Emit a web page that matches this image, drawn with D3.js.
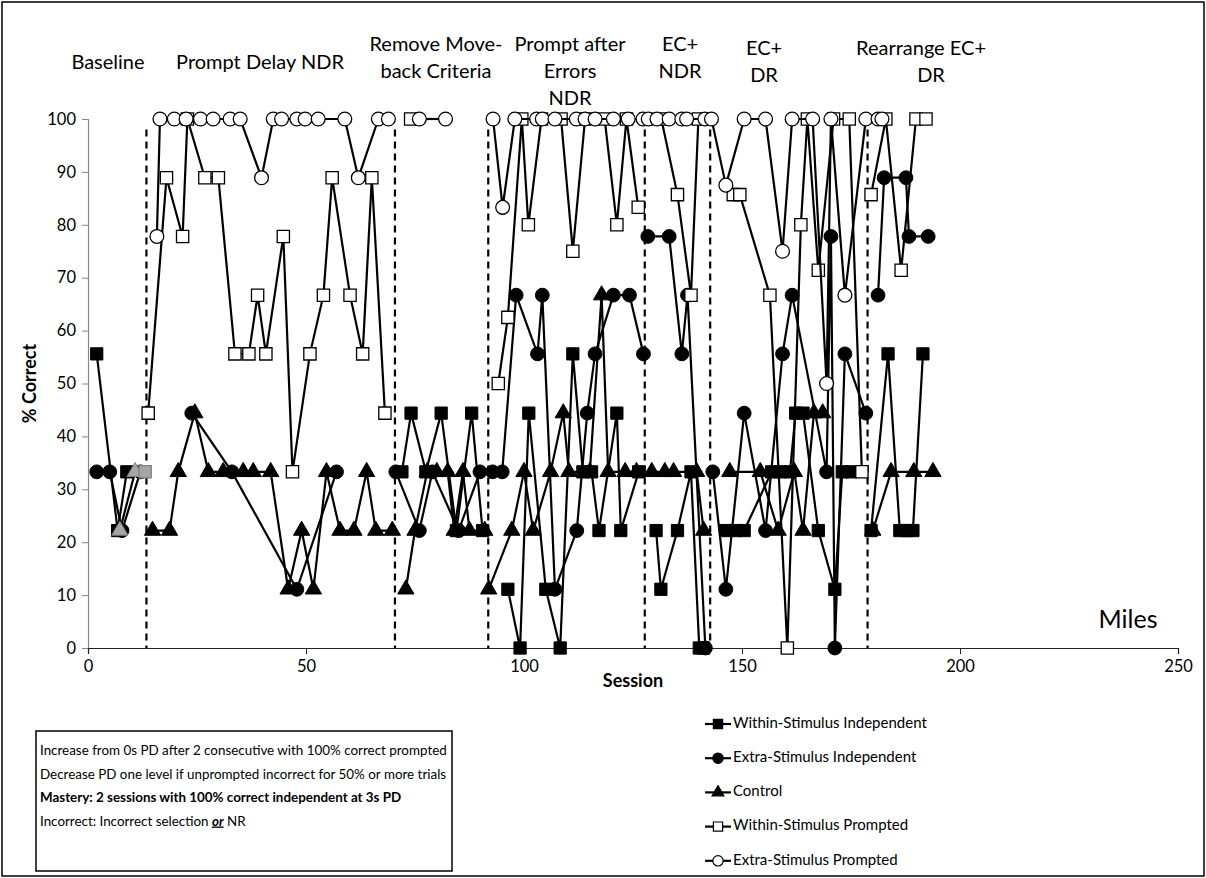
<!DOCTYPE html>
<html>
<head>
<meta charset="utf-8">
<script src="https://cdn.jsdelivr.net/npm/d3@7"></script>
<style>
body { margin: 0; background: #fff; }
svg text { font-family: Lato, "Open Sans", sans-serif; fill: #000; }
</style>
</head>
<body>
<div id="chart"></div>
<script>
// session, % correct
var wsIndep = [
    [2, 55.6], [6.8, 22.2], [8.9, 33.3],
    [72, 33.3], [74.1, 44.4], [77.5, 33.3], [81, 44.4], [84.5, 22.2], [88, 44.4], [90.5, 22.2],
    [96.3, 11.1], [99.1, 0], [101.1, 44.4], [105, 11.1], [108.3, 0], [111.2, 55.6], [113.5, 33.3], [115.5, 33.3], [117.2, 22.2], [121.3, 44.4], [122.2, 22.2], [126.3, 33.3],
    [130.3, 22.2], [131.4, 11.1], [135.2, 22.2], [138.3, 33.3], [140.2, 0], [141.2, 0],
    [146.3, 22.2], [148.5, 22.2], [150.5, 22.2], [156.8, 33.3], [158.7, 33.3], [161, 33.3], [162.3, 44.4], [164, 44.4], [167.5, 22.2], [171.3, 11.1], [173, 33.3], [175, 33.3],
    [179.6, 22.2], [183.5, 55.6], [186.2, 22.2], [187.8, 22.2], [189.2, 22.2], [191.5, 55.6]
];
var esIndep = [
    [2, 33.3], [5, 33.3], [7.8, 22.2], [12, 33.3],
    [23.8, 44.4], [33, 33.3], [47.9, 11.1], [57, 33.3],
    [70.6, 33.3], [76, 22.2], [79, 33.3], [85, 22.2], [89.9, 33.3],
    [92.8, 33.3], [95, 33.3], [98.2, 66.7], [103.1, 55.6], [104.2, 66.7], [107.1, 11.1], [112.1, 22.2], [114.5, 44.4], [116.3, 55.6], [120.5, 66.7], [124.2, 66.7], [127.4, 55.6],
    [128.4, 77.8], [133.3, 77.8], [136.2, 55.6], [137.5, 66.7], [141.6, 0],
    [143.3, 33.3], [146.3, 11.1], [150.5, 44.4], [155.4, 22.2], [159.3, 55.6], [161.5, 66.7], [169.4, 33.3], [170.4, 77.8], [171.3, 0], [173.6, 55.6], [178.4, 44.4],
    [181.2, 66.7], [182.6, 88.9], [187.6, 88.9], [188.3, 77.8], [192.7, 77.8]
];
var control = [
    [7.3, 22.2], [10.8, 33.3],
    [14.8, 22.2], [18.7, 22.2], [20.7, 33.3], [24.5, 44.4], [27.6, 33.3], [31, 33.3], [35.6, 33.3], [37.9, 33.3], [41.9, 33.3], [45.9, 11.1], [49, 22.2], [51.7, 11.1], [54.7, 33.3], [57.8, 22.2], [61, 22.2], [63.9, 33.3], [66, 22.2], [69.8, 22.2],
    [72.9, 11.1], [75, 22.2], [77.8, 33.3], [80, 33.3], [82.5, 33.3], [84, 22.2], [86, 33.3], [87.5, 22.2], [91, 22.2],
    [91.9, 11.1], [97.2, 22.2], [100, 33.3], [102.1, 22.2], [106.1, 33.3], [109, 44.4], [110.3, 33.3], [115.1, 33.3], [117.8, 66.7], [119.3, 33.3], [123.2, 33.3], [125.8, 33.3],
    [129.3, 33.3], [132.3, 33.3], [134.3, 33.3], [139.6, 33.3], [141.2, 22.2],
    [147.2, 33.3], [154.2, 33.3], [158.3, 22.2], [162, 33.3], [164, 22.2], [166.5, 44.4], [168.5, 44.4],
    [180, 22.2], [184.2, 33.3], [189.4, 33.3], [193.8, 33.3]
];
var wsPrompted = [
    [13.1, 33.3],
    [13.8, 44.4], [18, 88.9], [21.7, 77.8], [22.8, 100], [26.8, 88.9], [29.9, 88.9], [33.7, 55.6], [36.9, 55.6], [38.9, 66.7], [40.8, 55.6], [44.8, 77.8], [46.9, 33.3], [50.9, 55.6], [54, 66.7], [56, 88.9], [60.1, 66.7], [63, 55.6], [65.1, 88.9], [68.1, 44.4],
    [74, 100],
    [94.1, 50], [96.3, 62.5], [99.5, 100], [101, 80], [104, 100], [108.5, 100], [111.2, 75], [114, 100], [118.5, 100], [121.3, 80], [123.5, 100], [126.2, 83.3],
    [128, 100], [131.5, 100], [135.2, 85.7], [138.3, 66.7], [140, 100], [142, 100],
    [148, 85.7], [149.5, 85.7], [156.4, 66.7], [160.4, 0], [163.5, 80], [165, 100], [167.5, 71.4], [171, 100], [174.6, 100], [177.5, 33.3],
    [179.6, 85.7], [183, 100], [186.5, 71.4], [189.9, 100], [192.2, 100]
];
var esPrompted = [
    [15.8, 77.8], [16.5, 100], [19.8, 100], [22.5, 100], [25.8, 100], [28.7, 100], [32.6, 100], [34.9, 100], [39.8, 88.9], [42.5, 100], [44.4, 100], [47.9, 100], [49.8, 100], [52.8, 100], [58.9, 100], [62, 88.9], [66.6, 100], [68.9, 100],
    [76, 100], [82, 100],
    [92.9, 100], [95.1, 83.3], [97.9, 100], [102.9, 100], [104.2, 100], [107.1, 100], [112, 100], [114, 100], [116.3, 100], [120.5, 100], [123.9, 100], [127.3, 100],
    [128.5, 100], [130.5, 100], [133.3, 100], [136.2, 100], [137.3, 100], [141.5, 100],
    [143, 100], [146.3, 87.5], [150.5, 100], [155.4, 100], [159.3, 75], [161.5, 100], [166.2, 100], [169.4, 50], [170.4, 100], [173.6, 66.7], [178.4, 100],
    [181.2, 100], [182.1, 100]
];

var phaseBreaks = [13.4, 70.4, 91.8, 127.7, 142.7, 178.8];
var phaseNames = [
    ["Baseline"], ["Prompt Delay NDR"], ["Remove Move-", "back Criteria"],
    ["Prompt after", "Errors", "NDR"], ["EC+", "NDR"], ["EC+", "DR"], ["Rearrange EC+", "DR"]
];
var xTicks = [0, 50, 100, 150, 200, 250];
var yTicks = [0, 10, 20, 30, 40, 50, 60, 70, 80, 90, 100];
var notes = [
    "Increase from 0s PD after 2 consecutive with 100% correct prompted",
    "Decrease PD one level if unprompted incorrect for 50% or more trials",
    "Mastery: 2 sessions with 100% correct independent at 3s PD"
];

let series = [
    { name: "Within-Stimulus Independent", data: wsIndep, shape: d3.symbolSquare, open: false },
    { name: "Extra-Stimulus Independent", data: esIndep, shape: d3.symbolCircle, open: false },
    { name: "Control", data: control, shape: d3.symbolTriangle, open: false, grayBaseline: true },
    { name: "Within-Stimulus Prompted", data: wsPrompted, shape: d3.symbolSquare, open: true, grayBaseline: true },
    { name: "Extra-Stimulus Prompted", data: esPrompted, shape: d3.symbolCircle, open: true }
];

let dimension = {
    width: 1206,
    height: 878,
    margin: { top: 119, left: 88, right: 28, bottom: 230 }
};

let svg = d3.select("#chart")
    .append("svg")
    .attr("width", dimension.width)
    .attr("height", dimension.height);

// outer frame
svg.append("rect")
    .attr("x", 2).attr("y", 2)
    .attr("width", dimension.width - 4).attr("height", dimension.height - 4)
    .attr("fill", "none").attr("stroke", "#000").attr("stroke-width", 1.5);

let X = d3.scaleLinear()
    .domain([0, 250])
    .range([dimension.margin.left, dimension.width - dimension.margin.right]);
let Y = d3.scaleLinear()
    .domain([0, 100])
    .range([dimension.height - dimension.margin.bottom, dimension.margin.top]);

// axes
let yAxis = svg.append("g")
    .attr("transform", "translate(" + X(0) + ",0)")
    .call(d3.axisLeft(Y).tickValues(yTicks).tickSize(6).tickPadding(6));
yAxis.select(".domain").attr("stroke", "#868686").attr("stroke-width", 1.2);
yAxis.selectAll(".tick line").attr("stroke", "#868686");
yAxis.selectAll("text").style("font-size", "16.5px").attr("fill", "#222");

let xAxis = svg.append("g")
    .attr("transform", "translate(0," + Y(0) + ")")
    .call(d3.axisBottom(X).tickValues(xTicks).tickSize(6).tickPadding(6));
xAxis.select(".domain").attr("stroke", "#222").attr("stroke-width", 1.2);
xAxis.selectAll(".tick line").attr("stroke", "#222");
xAxis.selectAll("text").style("font-size", "16.5px").attr("fill", "#222");

svg.append("text")
    .attr("transform", "translate(31," + Y(50) + ") rotate(-90)")
    .attr("text-anchor", "middle")
    .attr("dominant-baseline", "middle")
    .style("font-size", "18px").style("font-weight", "bold")
    .text("% Correct");

svg.append("text")
    .attr("x", 633).attr("y", 687)
    .attr("text-anchor", "middle")
    .style("font-size", "18px").style("font-weight", "bold")
    .text("Session");

svg.append("text")
    .attr("x", 1128).attr("y", 628)
    .attr("text-anchor", "middle")
    .style("font-size", "25px")
    .text("Miles");

// phase change lines
svg.selectAll(".phase-line")
    .data(phaseBreaks)
    .enter()
    .append("line")
    .attr("class", "phase-line")
    .attr("x1", d => X(d)).attr("x2", d => X(d))
    .attr("y1", Y(98)).attr("y2", Y(0))
    .attr("stroke", "#000")
    .attr("stroke-width", 2.2)
    .attr("stroke-dasharray", "7,5");

// phase labels: centre x (px) and first line y
let labelPos = [[108, 69], [260, 69], [436, 51], [570, 51], [680, 51], [764, 55], [921, 55]];
phaseNames.forEach((lines, i) => {
    let t = svg.append("text")
        .attr("text-anchor", "middle")
        .style("font-size", "20px");
    lines.forEach((l, j) => {
        t.append("tspan")
            .attr("x", labelPos[i][0] + (i === 6 && j === 1 ? 10 : 0))
            .attr("y", labelPos[i][1] + j * 27)
            .text(l);
    });
});

function phaseOf(s) {
    return d3.bisectRight(phaseBreaks, s);
}

let line = d3.line()
    .x(d => X(d[0]))
    .y(d => Y(d[1]));

let symbolSize = s => s === d3.symbolSquare ? 150 : s === d3.symbolCircle ? 150 : 115;

series.forEach(sr => {
    let g = svg.append("g");
    let groups = Array.from(d3.group(sr.data, d => phaseOf(d[0])).values());
    g.selectAll("path.seg")
        .data(groups)
        .enter()
        .append("path")
        .attr("class", "seg")
        .attr("d", line)
        .attr("fill", "none")
        .attr("stroke", "#000")
        .attr("stroke-width", 2.2);

    g.selectAll("path.mark")
        .data(sr.data)
        .enter()
        .append("path")
        .attr("class", "mark")
        .attr("transform", d => "translate(" + X(d[0]) + "," + Y(d[1]) + ")")
        .attr("d", d3.symbol().type(sr.shape).size(symbolSize(sr.shape)))
        .attr("fill", d => sr.grayBaseline && phaseOf(d[0]) === 0 ? "#a6a6a6" : (sr.open ? "#fff" : "#000"))
        .attr("stroke", d => sr.grayBaseline && phaseOf(d[0]) === 0 ? "#7f7f7f" : "#000")
        .attr("stroke-width", sr.open ? 1.3 : 1);
});

// legend
let legend = svg.append("g");
series.forEach((sr, i) => {
    let y = 724 + i * 34.2;
    legend.append("line")
        .attr("x1", 705).attr("x2", 731)
        .attr("y1", y).attr("y2", y)
        .attr("stroke", "#000").attr("stroke-width", 2.2);
    legend.append("path")
        .attr("transform", "translate(718," + y + ")")
        .attr("d", d3.symbol().type(sr.shape).size(sr.shape === d3.symbolTriangle ? 60 : 85))
        .attr("fill", sr.open ? "#fff" : "#000")
        .attr("stroke", "#000").attr("stroke-width", 1.2);
    legend.append("text")
        .attr("x", 733).attr("y", y)
        .attr("dominant-baseline", "middle")
        .style("font-size", "15px")
        .text(sr.name);
});

// notes box
svg.append("rect")
    .attr("x", 36).attr("y", 731)
    .attr("width", 416).attr("height", 140)
    .attr("fill", "#fff").attr("stroke", "#000").attr("stroke-width", 1.5);

notes.forEach((n, i) => {
    svg.append("text")
        .attr("x", 40).attr("y", 755 + i * 23.5)
        .style("font-size", "13.4px")
        .style("font-weight", i === 2 ? "bold" : "normal")
        .text(n);
});
let last = svg.append("text")
    .attr("x", 40).attr("y", 755 + 3 * 23.5)
    .style("font-size", "13.4px");
last.append("tspan").text("Incorrect: Incorrect selection ");
last.append("tspan")
    .style("font-weight", "bold").style("font-style", "italic")
    .style("text-decoration", "underline")
    .text("or");
last.append("tspan").text(" NR");
</script>
</body>
</html>
